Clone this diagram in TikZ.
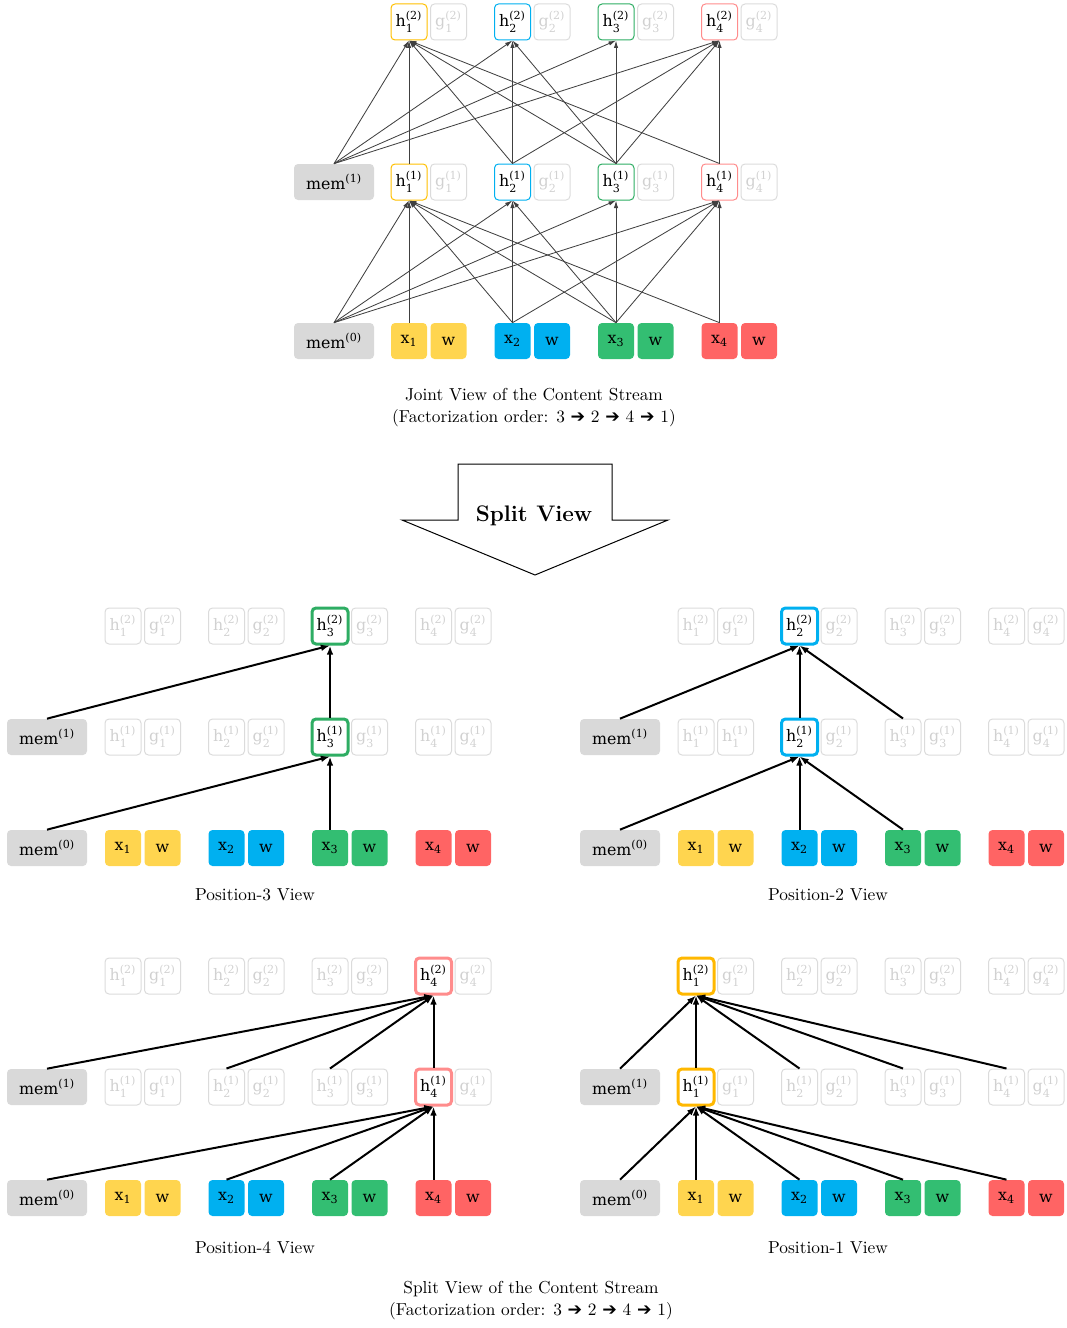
\documentclass[tikz,border=0pt]{standalone}
\usepackage{amsmath}
\usepackage{fontspec}
\usepackage{tikz}
\usetikzlibrary{arrows.meta}
\newfontfamily\boxfont{DejaVu Serif}
\newfontfamily\arrowfont{DejaVu Sans}

\definecolor{tokyel}{HTML}{FFD54F}
\definecolor{tokblu}{HTML}{00B0F0}
\definecolor{tokgrn}{HTML}{33BE72}
\definecolor{tokred}{HTML}{FF6464}
\definecolor{edgyel}{HTML}{FFC000}
\definecolor{edgblu}{HTML}{00B0F0}
\definecolor{edggrn}{HTML}{2EAD63}
\definecolor{edgred}{HTML}{FF8C8C}
\definecolor{hlyel}{HTML}{FFB800}
\definecolor{memgray}{HTML}{D9D9D9}

\tikzset{
	cell/.style    = {rectangle, rounded corners=2.4pt, minimum width=21.6pt,
		minimum height=21.6pt, inner sep=0pt, font=\boxfont\fontsize{9.5}{11}\selectfont},
	tok/.style     = {cell, fill=#1},
	mem/.style     = {cell, fill=memgray, minimum width=48pt},
	hid/.style     = {cell, draw=#1, fill=white, line width=0.6pt},
	hl/.style      = {cell, draw=#1, fill=white, line width=1.8pt},
	faint/.style   = {cell, draw=black!14, text=black!18, line width=0.6pt},
	lnk/.style     = {-{Latex[length=4.5pt,width=2.6pt]}, draw=black!75, line width=0.5pt},
	blnk/.style    = {-{Latex[length=5.5pt,width=4pt]}, draw=black, line width=1.2pt},
	caption/.style = {align=center, font=\fontsize{10.4}{13.2}\selectfont}
}
\newcommand{\lab}[3]{#1$^{\text{(#3)}}_{\text{#2}}$}
\newcommand{\nxt}{{\arrowfont\bfseries ➔}}
\newcommand{\splitpanel}[6]{%
	% #1 prefix, #2/#3 shift, #4 position shown, #5 its colour, #6 first g of layer 1
	\node[mem] (#1m0) at (#2+47,#3+848) {mem$^{\text{(0)}}$};
	\node[mem] (#1m1) at (#2+47,#3+737) {mem$^{\text{(1)}}$};
	\foreach \i/\col in {1/tokyel,2/tokblu,3/tokgrn,4/tokred}{
		\ifnum\i=#4\relax \tikzset{cur/.style={hl=#5}}\else \tikzset{cur/.style={faint}}\fi
		\ifnum\i=1\relax \def\gone{#6}\else \def\gone{g}\fi
		\node[tok=\col] (#1x\i) at ({#2+123+103.5*(\i-1)},#3+848) {x$_{\text{\i}}$};
		\node[tok=\col] (#1w\i) at ({#2+162.5+103.5*(\i-1)},#3+848) {w};
		\node[cur] (#1ha\i) at ({#2+123+103.5*(\i-1)},#3+737) {\lab{h}{\i}{1}};
		\node[faint] (#1ga\i) at ({#2+162.5+103.5*(\i-1)},#3+737) {\lab{\gone}{\i}{1}};
		\node[cur] (#1hb\i) at ({#2+123+103.5*(\i-1)},#3+626) {\lab{h}{\i}{2}};
		\node[faint] (#1gb\i) at ({#2+162.5+103.5*(\i-1)},#3+626) {\lab{g}{\i}{2}};
	}
}

\begin{document}
\begin{tikzpicture}[x=0.6pt, y=-0.6pt]
	\useasboundingbox (0,0) rectangle (1066,1328);
	% joint view
	\node[mem] (m0) at (334,341) {mem$^{\text{(0)}}$};
	\node[mem] (m1) at (334,182) {mem$^{\text{(1)}}$};
	\foreach \i/\col/\bor in {1/tokyel/edgyel,2/tokblu/edgblu,3/tokgrn/edggrn,4/tokred/edgred}{
		\node[tok=\col] (x\i) at ({409+103.5*(\i-1)},341) {x$_{\text{\i}}$};
		\node[tok=\col] (w\i) at ({448.5+103.5*(\i-1)},341) {w};
		\node[hid=\bor] (ha\i) at ({409+103.5*(\i-1)},182) {\lab{h}{\i}{1}};
		\node[faint] (ga\i) at ({448.5+103.5*(\i-1)},182) {\lab{g}{\i}{1}};
		\node[hid=\bor] (hb\i) at ({409+103.5*(\i-1)},22) {\lab{h}{\i}{2}};
		\node[faint] (gb\i) at ({448.5+103.5*(\i-1)},22) {\lab{g}{\i}{2}};
	}
	\foreach \s/\t in {m0/1,m0/2,m0/3,m0/4,x1/1,x2/1,x2/2,x2/4,x3/1,x3/2,x3/3,x3/4,x4/1,x4/4}
		\draw[lnk] (\s.north) -- (ha\t.south);
	\foreach \s/\t in {m1/1,m1/2,m1/3,m1/4,ha1/1,ha2/1,ha2/2,ha2/4,ha3/1,ha3/2,ha3/3,ha3/4,ha4/1,ha4/4}
		\draw[lnk] (\s.north) -- (hb\t.south);
	\node[caption] (jcap) at (534,408) {Joint View of the Content Stream\\(Factorization order: 3 \nxt\ 2 \nxt\ 4 \nxt\ 1)};

	% split arrow
	\draw[line width=0.6pt] (458,464) -- (612,464) -- (612,520) -- (668,520) -- (535,575) -- (402,520) -- (458,520) -- cycle;
	\node[font=\bfseries\fontsize{13.5}{15}\selectfont] (split) at (534,516) {Split View};

	% split views
	\splitpanel{p3}{0}{0}{3}{edggrn}{g}
	\splitpanel{p2}{573}{0}{2}{edgblu}{h}
	\splitpanel{p4}{0}{350}{4}{edgred}{g}
	\splitpanel{p1}{573}{350}{1}{hlyel}{g}
	\foreach \s/\t in {p3m0/p3ha3,p3x3/p3ha3,p3m1/p3hb3,p3ha3/p3hb3,
		p2m0/p2ha2,p2x2/p2ha2,p2x3/p2ha2,p2m1/p2hb2,p2ha2/p2hb2,p2ha3/p2hb2,
		p4m0/p4ha4,p4x2/p4ha4,p4x3/p4ha4,p4x4/p4ha4,p4m1/p4hb4,p4ha2/p4hb4,p4ha3/p4hb4,p4ha4/p4hb4,
		p1m0/p1ha1,p1x1/p1ha1,p1x2/p1ha1,p1x3/p1ha1,p1x4/p1ha1,p1m1/p1hb1,p1ha1/p1hb1,p1ha2/p1hb1,p1ha3/p1hb1,p1ha4/p1hb1}
		\draw[blnk] (\s.north) -- (\t.south);
	\node[caption] (cap3) at (255,895) {Position-3 View};
	\node[caption] (cap2) at (828,895) {Position-2 View};
	\node[caption] (cap4) at (255,1248) {Position-4 View};
	\node[caption] (cap1) at (828,1248) {Position-1 View};
	\node[caption] (scap) at (531,1301) {Split View of the Content Stream\\(Factorization order: 3 \nxt\ 2 \nxt\ 4 \nxt\ 1)};
\end{tikzpicture}
\end{document}
